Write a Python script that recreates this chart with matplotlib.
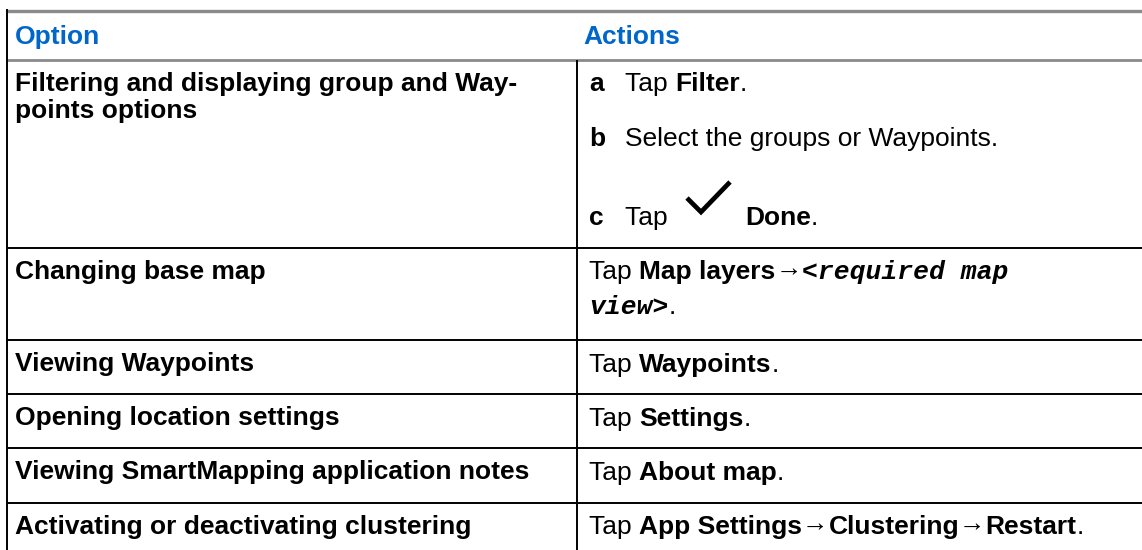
import matplotlib
matplotlib.use("Agg")
import matplotlib.pyplot as plt

# ---------------- data ----------------
headers = ["Option", "Actions"]
options = [
    ["Filtering and displaying group and Way-", "points options"],
    ["Changing base map"],
    ["Viewing Waypoints"],
    ["Opening location settings"],
    ["Viewing SmartMapping application notes"],
    ["Activating or deactivating clustering"],
]
# action lines: (list marker or None, runs); runs are (text, style)
# styles: n = normal, b = bold, m = bold italic monospace, a = arrow, check = icon
actions = [
    [("a", [("Tap ", "n"), ("Filter", "b"), (".", "n")]),
     ("b", [("Select the groups or Waypoints.", "n")]),
     ("c", [("Tap ", "n"), ("CHECK", "check"), ("Done", "b"), (".", "n")])],
    [(None, [("Tap ", "n"), ("Map layers", "b"), ("\u2192", "a"), ("<required map", "m")]),
     (None, [("view>", "m"), (".", "n")])],
    [(None, [("Tap ", "n"), ("Waypoints", "b"), (".", "n")])],
    [(None, [("Tap ", "n"), ("Settings", "b"), (".", "n")])],
    [(None, [("Tap ", "n"), ("About map", "b"), (".", "n")])],
    [(None, [("Tap ", "n"), ("App Settings", "b"), ("\u2192", "a"), ("Clustering", "b"),
             ("\u2192", "a"), ("Restart", "b"), (".", "n")])],
]

# ---------------- layout ----------------
W, H = 1142, 550
FS = 19
SANS = ["Liberation Sans", "DejaVu Sans"]
MONO = ["Liberation Mono", "DejaVu Sans Mono"]
BLUE = "#0066cc"
GRAY = "#8a8a8a"

row_lines = [60, 248, 340, 394, 448, 503]
row_bottom = 560
left_x = 7
col_x = 577
opt_text_x = 15
act_text_x = 589
marker_text_x = 625
base_off = 31
opt_line_gap = 27
act_line_baselines = [
    [91, 146, 225],
    [279, 314],
    [372], [426], [480], [534],
]

fig = plt.figure(figsize=(W / 100, H / 100), dpi=100)
ax = fig.add_axes([0, 0, 1, 1])
ax.set_xlim(0, W)
ax.set_ylim(H, 0)
ax.axis("off")
fig.canvas.draw()
renderer = fig.canvas.get_renderer()

# lines
ax.plot([left_x, W], [11, 11], color=GRAY, lw=2.4, solid_capstyle="butt")
ax.plot([left_x, W], [60, 60], color=GRAY, lw=2.0, solid_capstyle="butt")
for y in row_lines[1:]:
    ax.plot([left_x, W], [y, y], color="black", lw=1.4, solid_capstyle="butt")
ax.plot([left_x, left_x], [10, row_bottom], color="black", lw=1.4)
ax.plot([col_x, col_x], [61, row_bottom], color="black", lw=1.4)

# header
ax.text(opt_text_x, 44, headers[0], fontsize=FS, fontweight="bold", color=BLUE,
        family=SANS, va="baseline", ha="left")
ax.text(583, 44, headers[1], fontsize=FS, fontweight="bold", color=BLUE,
        family=SANS, va="baseline", ha="left")

# option column
for i, lines in enumerate(options):
    for j, line in enumerate(lines):
        ax.text(opt_text_x, row_lines[i] + base_off + j * opt_line_gap, line,
                fontsize=FS, fontweight="bold", color="black", family=SANS,
                va="baseline", ha="left")


def draw_check(x, base):
    # check mark icon, drawn relative to the text cursor
    xs = [x + 12, x + 26, x + 55]
    ys = [base - 27, base - 13, base - 43]
    ax.plot(xs, ys, color="black", lw=3.4, solid_joinstyle="miter",
            solid_capstyle="butt")
    return x + 70


for i, lines in enumerate(actions):
    for j, (marker, runs) in enumerate(lines):
        x = act_text_x
        base = act_line_baselines[i][j]
        if marker is not None:
            ax.text(act_text_x, base, marker, fontsize=FS, fontweight="bold",
                    family=SANS, color="black", va="baseline", ha="left")
            x = marker_text_x
        for txt, st in runs:
            if st == "check":
                x = draw_check(x, base)
                continue
            y = base
            kw = dict(fontsize=FS, color="black", va="baseline", ha="left")
            if st == "n":
                kw.update(family=SANS)
            elif st == "a":
                kw.update(family=SANS)
                y = base - 3
            elif st == "b":
                kw.update(family=SANS, fontweight="bold")
            elif st == "m":
                kw.update(family=MONO, fontweight="bold", fontstyle="italic")
            t = ax.text(x, y, txt, **kw)
            bb = t.get_window_extent(renderer)
            x += bb.width

fig.savefig("out.png", dpi=100)
